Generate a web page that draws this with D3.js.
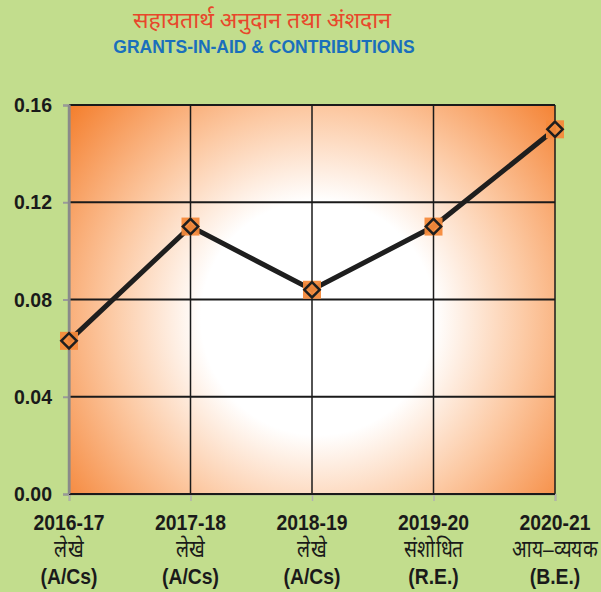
<!DOCTYPE html>
<html><head><meta charset="utf-8">
<script src="https://cdn.jsdelivr.net/npm/d3@7"></script>
<style>body{margin:0;background:#c2dd8d;}svg{display:block;}</style>
</head><body>
<svg id="c" width="601" height="592"></svg>
<script>
const years = ["2016-17","2017-18","2018-19","2019-20","2020-21"];
const hindiLabels = ["लेखे","लेखे","लेखे","संशोधित","आय–व्ययक"];
const engLabels = ["(A/Cs)","(A/Cs)","(A/Cs)","(R.E.)","(B.E.)"];
const values = [0.063, 0.110, 0.084, 0.110, 0.150];
const yTicks = [0, 0.04, 0.08, 0.12, 0.16];
const titleHi = "सहायतार्थ अनुदान तथा अंशदान";
const titleEn = "GRANTS-IN-AID & CONTRIBUTIONS";

const svg = d3.select("#c");
const W=601,H=592;
svg.append("rect").attr("width",W).attr("height",H).attr("fill","#c2dd8d");
const L=69,R=555,T=105,B=494;
const x = d3.scalePoint().domain(years).range([L,R]);
const y = d3.scaleLinear().domain([0,0.16]).range([B,T]);

const defs = svg.append("defs");
const g = defs.append("radialGradient").attr("id","bg").attr("gradientUnits","userSpaceOnUse")
  .attr("cx",318).attr("cy",318).attr("r",325).attr("fx",318).attr("fy",318);
g.append("stop").attr("offset","0").attr("stop-color","#ffffff");
g.append("stop").attr("offset","0.36").attr("stop-color","#ffffff");
g.append("stop").attr("offset","0.64").attr("stop-color","#fcc9a3");
g.append("stop").attr("offset","1").attr("stop-color","#f47f2e");
svg.append("rect").attr("x",L).attr("y",T).attr("width",R-L).attr("height",B-T).attr("fill","url(#bg)");

// gridlines
svg.append("g").selectAll("line").data(yTicks).join("line")
  .attr("x1",L).attr("x2",R).attr("y1",d=>y(d)).attr("y2",d=>y(d))
  .attr("stroke","#1a1a1a").attr("stroke-width",2);
svg.append("g").selectAll("line").data(years).join("line")
  .attr("x1",d=>x(d)).attr("x2",d=>x(d)).attr("y1",T).attr("y2",B)
  .attr("stroke","#1a1a1a").attr("stroke-width",1.5);

// axes
const yAxis = svg.append("g").attr("transform",`translate(${L},0)`)
  .call(d3.axisLeft(y).tickValues(yTicks).tickFormat(d3.format(".2f")).tickSize(6).tickPadding(10));
yAxis.select(".domain").attr("stroke","#8a8a8a").attr("stroke-width",2);
yAxis.selectAll(".tick line").attr("stroke","#9a9a9a").attr("stroke-width",2);
yAxis.selectAll("text").attr("font-family","Liberation Sans, Arial, sans-serif").attr("font-weight","bold")
  .attr("font-size",21).attr("fill","#1a1a1a")
  .attr("transform","scale(0.93,1)").attr("x",-17/0.93);

const xAxis = svg.append("g").attr("transform",`translate(0,${B})`)
  .call(d3.axisBottom(x).tickSize(7).tickFormat(""));
xAxis.select(".domain").attr("stroke","#8a8a8a").attr("stroke-width",1.5);
xAxis.selectAll(".tick line").attr("stroke","#b0b0b0").attr("stroke-width",1.5);
svg.append("line").attr("x1",L).attr("x2",R).attr("y1",B).attr("y2",B).attr("stroke","#1a1a1a").attr("stroke-width",2);
svg.append("line").attr("x1",L).attr("x2",L).attr("y1",T).attr("y2",B).attr("stroke","#8a8a8a").attr("stroke-width",2.5);

const lab = svg.append("g").selectAll("g").data(years).join("g")
  .attr("transform",d=>`translate(${x(d)},0)`);
const fam = "Liberation Sans, Arial, sans-serif";
lab.append("text").attr("y",530).attr("font-weight","bold").attr("font-size",22)
  .attr("transform","scale(0.88,1)").text(d=>d);
lab.append("text").attr("y",557).attr("font-size",24)
  .attr("transform","scale(0.8,1)").text((d,i)=>hindiLabels[i]);
lab.append("text").attr("y",584).attr("font-weight","bold").attr("font-size",22)
  .attr("transform","scale(0.88,1)").text((d,i)=>engLabels[i]);
lab.selectAll("text").attr("text-anchor","middle").attr("font-family",fam).attr("fill","#1a1a1a");

// line
const line = d3.line().x((d,i)=>x(years[i])).y(d=>y(d));
svg.append("path").datum(values).attr("d",line).attr("fill","none")
  .attr("stroke","#1e1e1e").attr("stroke-width",5).attr("stroke-linejoin","miter");
// markers
svg.append("g").selectAll("rect").data(values).join("rect")
  .attr("x",(d,i)=>x(years[i])-9).attr("y",d=>y(d)-9).attr("width",18).attr("height",18)
  .attr("fill","#f58a3b").attr("opacity",0.95);
svg.append("g").selectAll("path").data(values).join("path")
  .attr("transform",(d,i)=>`translate(${x(years[i])},${y(d)})`)
  .attr("d",d3.symbol(d3.symbolDiamond2,150)()).attr("fill","none")
  .attr("stroke","#1e1e1e").attr("stroke-width",2.5);

// titles
svg.append("text").attr("x",262).attr("y",28).attr("text-anchor","middle")
  .attr("font-family","Noto Sans, sans-serif").attr("font-size",23).attr("fill","#e8472b").text(titleHi);
svg.append("text").attr("x",264).attr("y",53).attr("text-anchor","middle")
  .attr("font-family",fam).attr("font-weight","bold")
  .attr("font-size",17.5).attr("fill","#1a6fbc").text(titleEn);
</script>
</body></html>
